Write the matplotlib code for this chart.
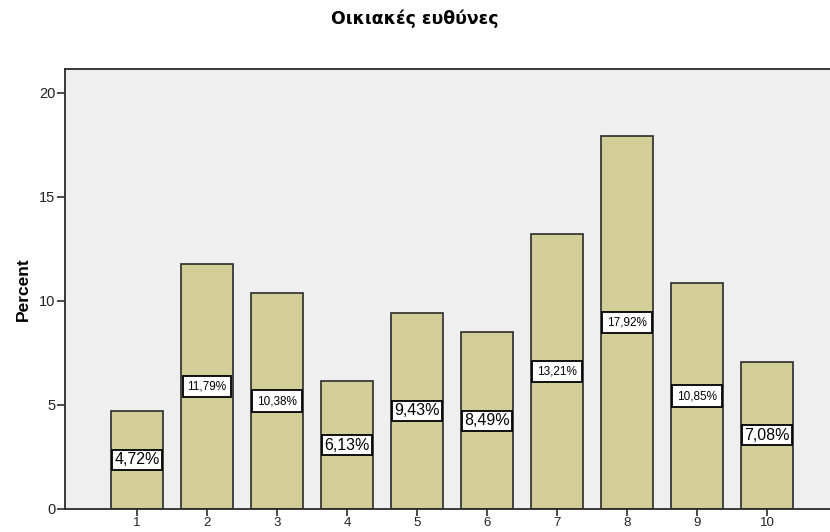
import matplotlib
matplotlib.use("Agg")
import matplotlib.pyplot as plt

plt.rcParams['font.family'] = ['Liberation Sans', 'DejaVu Sans']

categories = ["1", "2", "3", "4", "5", "6", "7", "8", "9", "10"]
percents = [4.72, 11.79, 10.38, 6.13, 9.43, 8.49, 13.21, 17.92, 10.85, 7.08]
yticks = [0, 5, 10, 15, 20]

fig = plt.figure(figsize=(8.3, 5.32), dpi=100)
ax = fig.add_axes([65 / 830, 23 / 532, 1 - 65 / 830, (509 - 69) / 532])
ax.set_facecolor('#EFEFEF')

xs = list(range(1, len(categories) + 1))
ax.bar(xs, percents, width=0.75, color='#D3CE98', edgecolor='#2b2b2b',
       linewidth=1.2, zorder=2)

# value labels in the middle of each bar; longer labels get a smaller font
for x, v in zip(xs, percents):
    txt = f"{v:.2f}%".replace('.', ',')
    small = v >= 10
    ax.text(x, v / 2, txt, ha='center', va='center',
            fontsize=8.5 if small else 11.5, color='black', zorder=3,
            bbox=dict(boxstyle='square,pad=%s' % (0.4 if small else 0.15),
                      facecolor='white', edgecolor='black', linewidth=1.3))

ax.set_xlim(-0.03, 10.9)
ax.set_ylim(0, 21.15)
ax.set_xticks(xs)
ax.set_xticklabels(categories)
ax.set_yticks(yticks)
ax.tick_params(axis='y', direction='out', length=6, width=1.2, pad=1,
               color='#2b2b2b', labelsize=10.5, labelcolor='#222222')
ax.tick_params(axis='x', direction='out', length=5, width=1.2, pad=0.5,
               color='#2b2b2b', labelsize=9.5, labelcolor='#222222')

for side in ['left', 'bottom', 'top']:
    ax.spines[side].set_color('#2b2b2b')
    ax.spines[side].set_linewidth(1.3)
ax.spines['right'].set_visible(False)

ax.set_ylabel('Percent', fontsize=12.5, fontweight='bold', labelpad=6)
fig.text(0.5, 1 - 19 / 532, 'Οικιακές ευθύνες', ha='center', va='center',
         fontsize=12.5, fontweight='bold', family=['DejaVu Sans'])

fig.savefig('out.png', dpi=100)
